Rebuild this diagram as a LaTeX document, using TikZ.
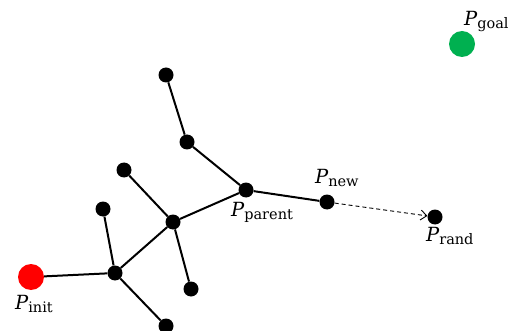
\documentclass[tikz,border=0pt]{standalone}
\usepackage{fontspec}
\setmainfont{DejaVu Serif}
\usetikzlibrary{arrows.meta}
\definecolor{goalgreen}{RGB}{0,176,80}
\newcommand{\plab}[1]{{\itshape P}\raisebox{-3pt}{\fontsize{14.5}{15}\selectfont #1}}
\tikzset{
	knot/.style={circle,fill=black,inner sep=0pt,minimum size=15pt},
	endpt/.style={circle,inner sep=0pt,minimum size=26pt},
	edge/.style={line width=2pt},
	lbl/.style={inner sep=0pt,anchor=base west,font=\fontsize{19.5}{22}\selectfont}
}
\begin{document}
\begin{tikzpicture}[x=1pt,y=-1pt]
		\useasboundingbox (0,0) rectangle (508,331);
		%Start und Ziel
		\node at (31,277) [endpt,fill=red] (init) {};
		\node at (462,44) [endpt,fill=goalgreen] (goal) {};
		%Knoten im Baum
		\node at (115,273) [knot] (a) {};
		\node at (103,209) [knot] (a1) {};
		\node at (166,326) [knot] (a2) {};
		\node at (173,222) [knot] (b) {};
		\node at (124,170) [knot] (b1) {};
		\node at (191,289) [knot] (b2) {};
		\node at (246,190) [knot] (parent) {};
		\node at (187,142) [knot] (c) {};
		\node at (166,75) [knot] (d) {};
		\node at (327,202) [knot] (new) {};
		\node at (435,217) [knot] (rand) {};
		% Kanten
		\draw[edge] (init) -- (a);
		\draw[edge] (a) -- (a1);
		\draw[edge] (a) -- (a2);
		\draw[edge] (a) -- (b);
		\draw[edge] (b) -- (b1);
		\draw[edge] (b) -- (b2);
		\draw[edge] (b) -- (parent);
		\draw[edge] (parent) -- (c);
		\draw[edge] (c) -- (d);
		\draw[edge] (parent) -- (new);
		\draw[dashed,line width=0.9pt,dash pattern=on 4pt off 3pt,-{Straight Barb[length=6pt,width=10pt]}] (new) -- (rand);
		%Beschriftung
		\node at (15,309) [lbl] (linit) {\plab{init}};
		\node at (231,216) [lbl] (lparent) {\plab{parent}};
		\node at (315,183) [lbl] (lnew) {\plab{new}};
		\node at (426,241) [lbl] (lrand) {\plab{rand}};
		\node at (464,26) [lbl] (lgoal) {\plab{goal}};
\end{tikzpicture}
\end{document}
